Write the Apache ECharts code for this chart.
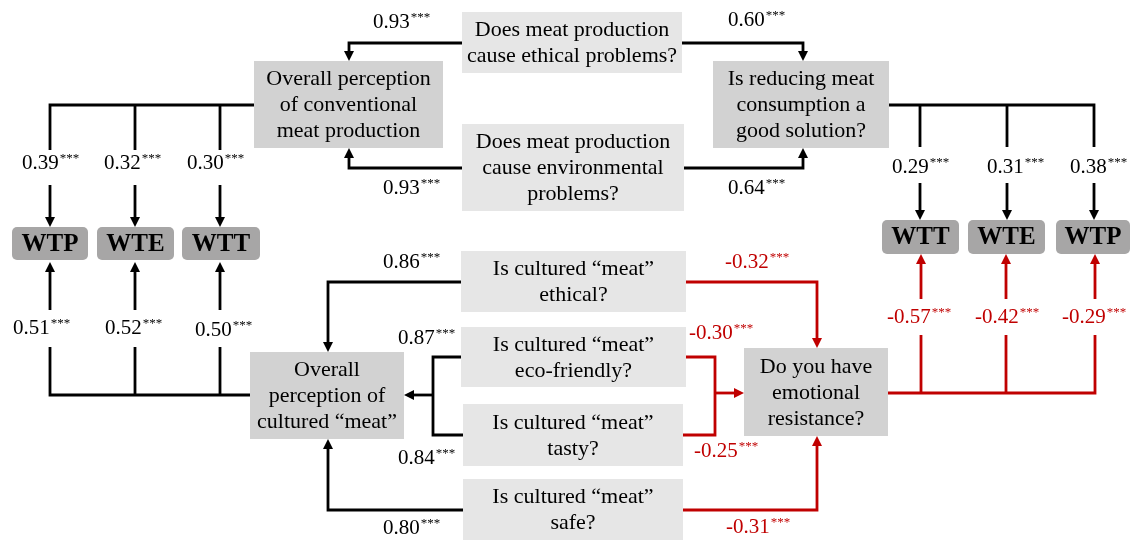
<!DOCTYPE html>
<html>
<head>
<meta charset="utf-8">
<script src="https://cdn.jsdelivr.net/npm/echarts@6/dist/echarts.min.js"></script>
<style>
html, body { margin: 0; padding: 0; background: #fff; }
#main { width: 1131px; height: 541px; }
</style>
</head>
<body>
<div id="main"></div>
<script>
// node texts and kinds
var nodeText = [
	'Does meat production\ncause ethical problems?',
	'Does meat production\ncause environmental\nproblems?',
	'Overall perception\nof conventional\nmeat production',
	'Is reducing meat\nconsumption a\ngood solution?',
	'WTP', 'WTE', 'WTT',
	'WTT', 'WTE', 'WTP',
	'Is cultured \u201cmeat\u201d\nethical?',
	'Is cultured \u201cmeat\u201d\neco-friendly?',
	'Is cultured \u201cmeat\u201d\ntasty?',
	'Is cultured \u201cmeat\u201d\nsafe?',
	'Overall\nperception of\ncultured \u201cmeat\u201d',
	'Do you have\nemotional\nresistance?'
];
var nodeKind = [
	'item', 'item', 'latent', 'latent',
	'outcome', 'outcome', 'outcome',
	'outcome', 'outcome', 'outcome',
	'item', 'item', 'item', 'item', 'latent', 'latent'
];
// path coefficients (significance ***)
var coefs = [
	'0.93', '0.93', '0.60', '0.64',
	'0.39', '0.32', '0.30',
	'0.29', '0.31', '0.38',
	'0.51', '0.52', '0.50',
	'0.86', '0.87', '0.84', '0.80',
	'-0.32', '-0.30', '-0.25', '-0.31',
	'-0.57', '-0.42', '-0.29'
];
var coefNegative = coefs.map(function(c) { return c.charAt(0) == '-'; });

// layout (diagram space, y down)
var nodeBox = [
	[462, 12, 682, 73], [462, 124, 684, 211],
	[254, 61, 443, 148], [713, 61, 889, 148],
	[12, 227, 88, 260], [97, 227, 174, 260], [182, 227, 260, 260],
	[882, 220, 959, 254], [968, 220, 1045, 254], [1056, 220, 1130, 254],
	[461, 251, 686, 312], [461, 327, 686, 387],
	[463, 404, 683, 466], [463, 479, 683, 540],
	[250, 352, 404, 439], [744, 348, 888, 436]
];
var coefPos = [
	[373, 22], [383, 188], [728, 20], [728, 188],
	[22, 163], [104, 163], [187, 163],
	[892, 167], [987, 167], [1070, 167],
	[13, 328], [105, 328], [195, 330],
	[383, 262], [398, 338], [398, 458], [383, 528],
	[725, 262], [689, 333], [694, 451], [726, 527],
	[887, 317], [975, 317], [1062, 317]
];
// routes: points, arrow at end, red
var routes = [
	{ p: [[462, 43], [349, 43], [349, 61]], a: 1 },
	{ p: [[462, 168], [349, 168], [349, 148]], a: 1 },
	{ p: [[682, 43], [803, 43], [803, 61]], a: 1 },
	{ p: [[684, 168], [803, 168], [803, 148]], a: 1 },
	{ p: [[50, 150], [50, 105], [254, 105]], a: 0 },
	{ p: [[135, 105], [135, 150]], a: 0 },
	{ p: [[220, 105], [220, 150]], a: 0 },
	{ p: [[50, 185], [50, 227]], a: 1 },
	{ p: [[135, 185], [135, 227]], a: 1 },
	{ p: [[220, 185], [220, 227]], a: 1 },
	{ p: [[889, 105], [1094, 105], [1094, 147]], a: 0 },
	{ p: [[920, 105], [920, 147]], a: 0 },
	{ p: [[1007, 105], [1007, 147]], a: 0 },
	{ p: [[920, 183], [920, 220]], a: 1 },
	{ p: [[1007, 183], [1007, 220]], a: 1 },
	{ p: [[1094, 183], [1094, 220]], a: 1 },
	{ p: [[50, 347], [50, 395], [250, 395]], a: 0 },
	{ p: [[135, 347], [135, 395]], a: 0 },
	{ p: [[220, 347], [220, 395]], a: 0 },
	{ p: [[50, 310], [50, 262]], a: 1 },
	{ p: [[135, 310], [135, 262]], a: 1 },
	{ p: [[220, 310], [220, 262]], a: 1 },
	{ p: [[461, 282], [328, 282], [328, 352]], a: 1 },
	{ p: [[461, 357], [433, 357], [433, 435], [463, 435]], a: 0 },
	{ p: [[433, 395], [404, 395]], a: 1 },
	{ p: [[463, 510], [328, 510], [328, 439]], a: 1 },
	{ p: [[686, 282], [817, 282], [817, 348]], a: 1, r: 1 },
	{ p: [[686, 357], [715, 357], [715, 435], [683, 435]], a: 0, r: 1 },
	{ p: [[715, 393], [744, 393]], a: 1, r: 1 },
	{ p: [[683, 510], [817, 510], [817, 436]], a: 1, r: 1 },
	{ p: [[888, 393], [1095, 393], [1095, 335]], a: 0, r: 1 },
	{ p: [[921, 393], [921, 335]], a: 0, r: 1 },
	{ p: [[1006, 393], [1006, 335]], a: 0, r: 1 },
	{ p: [[921, 299], [921, 254]], a: 1, r: 1 },
	{ p: [[1006, 299], [1006, 254]], a: 1, r: 1 },
	{ p: [[1095, 299], [1095, 254]], a: 1, r: 1 }
];

var SERIF = '"Liberation Serif", "Times New Roman", serif';
var RED = '#c00000';
var BOX_COLOR = { item: '#e6e6e6', latent: '#d2d2d2', outcome: '#a7a6a6' };

var myChart = echarts.init(document.getElementById('main'));

function renderBox(params, api) {
	var b = nodeBox[params.dataIndex];
	var kind = nodeKind[params.dataIndex];
	var p0 = api.coord([b[0], b[1]]);
	var p1 = api.coord([b[2], b[3]]);
	var outcome = kind == 'outcome';
	return {
		type : 'group',
		children : [ {
			type : 'rect',
			shape : {
				x : p0[0], y : p0[1],
				width : p1[0] - p0[0], height : p1[1] - p0[1],
				r : outcome ? 5 : 0
			},
			style : { fill : BOX_COLOR[kind] }
		}, {
			type : 'text',
			style : {
				x : (p0[0] + p1[0]) / 2,
				y : (p0[1] + p1[1]) / 2 + 1,
				text : nodeText[params.dataIndex],
				align : 'center',
				verticalAlign : 'middle',
				fill : '#000',
				font : (outcome ? 'bold 25px ' : '22px ') + SERIF,
				lineHeight : 26
			}
		} ]
	};
}

function renderRoute(params, api) {
	var r = routes[params.dataIndex];
	var color = r.r ? RED : '#000';
	var pts = r.p.map(function(q) { return api.coord(q); });
	var children = [];
	if (r.a) {
		var n = pts.length;
		var tip = pts[n - 1], prev = pts[n - 2];
		var dx = tip[0] - prev[0], dy = tip[1] - prev[1];
		var len = Math.sqrt(dx * dx + dy * dy);
		dx /= len; dy /= len;
		var L = 10, W = 5;
		var base = [tip[0] - dx * L, tip[1] - dy * L];
		pts[n - 1] = [base[0] + dx, base[1] + dy];
		children.push({
			type : 'polygon',
			shape : { points : [ tip,
				[base[0] - dy * W, base[1] + dx * W],
				[base[0] + dy * W, base[1] - dx * W] ] },
			style : { fill : color }
		});
	}
	children.unshift({
		type : 'polyline',
		shape : { points : pts },
		style : { stroke : color, lineWidth : 2.8, fill : null, lineJoin : 'miter' }
	});
	return { type : 'group', children : children };
}

function renderCoef(params, api) {
	var i = params.dataIndex;
	var p = api.coord(coefPos[i]);
	var color = coefNegative[i] ? RED : '#000';
	return {
		type : 'text',
		style : {
			x : p[0], y : p[1],
			text : '{v|' + coefs[i] + '}{s|***}',
			align : 'left',
			verticalAlign : 'middle',
			rich : {
				v : { font : '21px ' + SERIF, fill : color, lineHeight : 22 },
				s : { font : '13px ' + SERIF, fill : color, lineHeight : 12, verticalAlign : 'top', padding : [0, 0, 6, 1] }
			}
		}
	};
}

var option = {
	animation : false,
	grid : { left : 0, right : 0, top : 0, bottom : 0 },
	xAxis : { type : 'value', min : 0, max : 1131, show : false },
	yAxis : { type : 'value', min : 0, max : 541, inverse : true, show : false },
	series : [ {
		type : 'custom',
		renderItem : renderRoute,
		data : routes.map(function(r) { return r.p[0]; })
	}, {
		type : 'custom',
		renderItem : renderBox,
		data : nodeBox.map(function(b) { return [b[0], b[1]]; })
	}, {
		type : 'custom',
		renderItem : renderCoef,
		data : coefPos
	} ]
};
myChart.setOption(option);
</script>
</body>
</html>
